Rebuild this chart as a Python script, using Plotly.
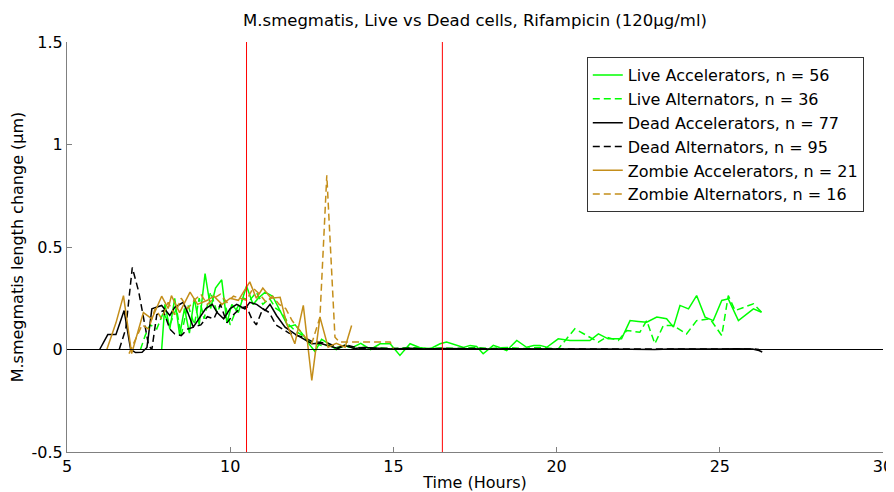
import plotly.graph_objects as go

# ---------------- data (time in hours, length change in µm) ----------------
live_acc = [(7.9, 0.0), (8.0, 0.22), (8.15, 0.1), (8.3, 0.25), (8.45, 0.07), (8.6, 0.2), (8.75, 0.08),
            (8.9, 0.25), (9.05, 0.12), (9.23, 0.37), (9.4, 0.2), (9.55, 0.3), (9.74, 0.34), (9.9, 0.13),
            (10.05, 0.22), (10.25, 0.18), (10.5, 0.31), (10.7, 0.22), (10.86, 0.25), (11.07, 0.28),
            (11.3, 0.26), (11.58, 0.17), (11.78, 0.11), (11.99, 0.12), (12.24, 0.07), (12.4, 0.03),
            (12.6, -0.01), (12.8, 0.05), (13.0, 0.03), (13.25, 0.0), (13.5, 0.02), (13.75, 0.01),
            (14.0, 0.03), (14.3, 0.0), (14.59, 0.028), (14.9, 0.028), (15.2, -0.029), (15.51, 0.028),
            (15.8, 0.01), (16.12, 0.003), (16.43, 0.028), (16.63, 0.036), (16.94, 0.02), (17.15, 0.01),
            (17.35, 0.02), (17.55, 0.015), (17.75, -0.021), (18.06, 0.02), (18.25, 0.01), (18.47, -0.005),
            (18.78, 0.044), (19.08, 0.011), (19.3, 0.02), (19.49, 0.02), (19.7, 0.011), (20.05, 0.052),
            (20.41, 0.044), (20.7, 0.044), (21.02, 0.044), (21.28, 0.076), (21.58, 0.052), (21.99, 0.052),
            (22.25, 0.141), (22.5, 0.137), (22.76, 0.133), (23.07, 0.158), (23.37, 0.15), (23.58, 0.109),
            (23.78, 0.215), (24.04, 0.198), (24.29, 0.263), (24.55, 0.158), (24.8, 0.141), (25.06, 0.239),
            (25.26, 0.247), (25.57, 0.141), (25.8, 0.17), (26.03, 0.198), (26.28, 0.182)]

live_alt = [(7.25, 0.0), (7.4, 0.07), (7.55, 0.12), (7.75, 0.1), (7.95, 0.18), (8.15, 0.12), (8.35, 0.2),
            (8.5, 0.07), (8.7, 0.22), (8.9, 0.12), (9.05, 0.25), (9.2, 0.15), (9.4, 0.28), (9.6, 0.18),
            (9.8, 0.25), (10.0, 0.12), (10.2, 0.2), (10.4, 0.25), (10.6, 0.24), (10.8, 0.28), (11.0, 0.22),
            (11.2, 0.25), (11.4, 0.2), (11.6, 0.18), (11.8, 0.12), (12.0, 0.09), (12.2, 0.07), (12.4, 0.04),
            (12.6, 0.03), (12.8, 0.02), (13.0, 0.02), (13.25, 0.01), (13.5, 0.015), (13.75, 0.01),
            (14.0, 0.01), (14.5, 0.008), (15.0, 0.005), (15.5, 0.01), (16.0, 0.005), (16.5, 0.008),
            (17.0, 0.005), (17.5, 0.01), (18.0, 0.005), (18.5, 0.01), (19.0, 0.005), (19.5, 0.01),
            (20.05, 0.003), (20.56, 0.101), (20.82, 0.076), (21.28, 0.036), (21.53, 0.06), (21.89, 0.044),
            (22.15, 0.093), (22.55, 0.084), (22.76, 0.141), (23.01, 0.028), (23.27, 0.117), (23.58, 0.117),
            (23.98, 0.076), (24.29, 0.141), (24.7, 0.15), (25.06, 0.068), (25.26, 0.263), (25.47, 0.19),
            (26.03, 0.223), (26.28, 0.182)]

dead_acc = [(6.0, 0.0), (6.25, 0.073), (6.5, 0.073), (6.75, 0.19), (6.95, 0.0), (7.1, -0.015), (7.3, -0.013),
            (7.45, 0.01), (7.6, 0.198), (7.9, 0.215), (8.15, 0.166), (8.3, 0.206), (8.56, 0.23), (8.7, 0.18),
            (8.87, 0.109), (9.05, 0.15), (9.25, 0.2), (9.45, 0.22), (9.6, 0.18), (9.8, 0.15), (10.0, 0.2),
            (10.2, 0.22), (10.45, 0.198), (10.6, 0.23), (10.81, 0.22), (11.07, 0.19), (11.22, 0.22),
            (11.42, 0.166), (11.68, 0.109), (11.98, 0.076), (12.25, 0.05), (12.5, 0.028), (12.75, 0.03),
            (13.0, 0.02), (13.3, 0.005), (13.5, 0.02), (13.8, 0.005), (14.1, 0.01), (14.5, 0.008),
            (15.0, 0.003), (15.5, 0.006), (16.0, 0.002), (16.5, 0.005), (17.0, 0.003), (17.5, 0.004),
            (18.0, 0.002), (18.5, 0.004), (19.0, 0.003), (19.5, 0.002), (20.0, 0.003), (20.5, 0.001),
            (21.0, 0.002), (21.5, 0.003), (22.0, 0.001), (22.5, 0.002), (23.0, 0.0), (23.5, 0.002),
            (24.0, 0.001), (24.5, 0.003), (25.0, 0.002), (25.5, 0.004), (26.0, 0.002), (26.2, -0.005),
            (26.3, -0.012)]

dead_alt = [(6.6, 0.0), (6.8, 0.1), (7.0, 0.4), (7.2, 0.28), (7.35, 0.15), (7.5, 0.02), (7.6, 0.0),
            (7.75, 0.17), (7.95, 0.19), (8.15, 0.1), (8.3, 0.076), (8.5, 0.068), (8.7, 0.1), (8.9, 0.11),
            (9.1, 0.12), (9.3, 0.16), (9.5, 0.15), (9.7, 0.22), (9.9, 0.13), (10.1, 0.17), (10.3, 0.2),
            (10.5, 0.21), (10.66, 0.15), (10.8, 0.12), (11.0, 0.2), (11.2, 0.18), (11.4, 0.12), (11.6, 0.1),
            (11.8, 0.08), (12.0, 0.07), (12.25, 0.06), (12.5, 0.04), (12.75, 0.035), (13.0, 0.03),
            (13.3, 0.01), (13.6, 0.02), (14.0, 0.005), (14.5, 0.006), (15.0, 0.004), (15.5, 0.005),
            (16.0, 0.003), (16.5, 0.004), (17.0, 0.002), (17.5, 0.005), (18.0, 0.003), (18.5, 0.002),
            (19.0, 0.004), (19.5, 0.003), (20.0, 0.002), (20.5, 0.003), (21.0, 0.001), (21.5, 0.002),
            (22.0, 0.003), (22.5, 0.001), (23.0, 0.002), (23.5, 0.003), (24.0, 0.002), (24.5, 0.001),
            (25.0, 0.003), (25.5, 0.002), (26.0, 0.003), (26.2, 0.0)]

zombie_acc = [(6.22, 0.0), (6.5, 0.13), (6.73, 0.263), (6.98, -0.02), (7.34, 0.18), (7.6, 0.15), (7.9, 0.26),
              (8.1, 0.2), (8.2, 0.263), (8.45, 0.18), (8.77, 0.28), (9.0, 0.22), (9.3, 0.24), (9.5, 0.26),
              (9.75, 0.22), (10.0, 0.25), (10.25, 0.24), (10.5, 0.3), (10.6, 0.33), (10.8, 0.25), (11.0, 0.3),
              (11.25, 0.25), (11.53, 0.255), (11.73, 0.125), (11.98, 0.028), (12.24, 0.215), (12.5, -0.151),
              (12.75, 0.158), (13.0, 0.011), (13.25, 0.03), (13.52, 0.011), (13.72, 0.117)]

zombie_alt = [(6.9, -0.02), (7.1, 0.05), (7.3, 0.12), (7.5, 0.1), (7.7, 0.2), (7.9, 0.15), (8.1, 0.23),
              (8.3, 0.17), (8.5, 0.25), (8.7, 0.2), (8.9, 0.24), (9.1, 0.27), (9.3, 0.22), (9.5, 0.25),
              (9.7, 0.27), (9.9, 0.23), (10.1, 0.26), (10.3, 0.25), (10.5, 0.24), (10.7, 0.3), (10.9, 0.27),
              (11.1, 0.23), (11.3, 0.26), (11.5, 0.22), (11.7, 0.2), (11.9, 0.14), (12.1, 0.1), (12.3, 0.06),
              (12.5, 0.03), (12.75, 0.158), (12.96, 0.85), (13.21, 0.06), (13.35, 0.036), (14.9, 0.036),
              (15.0, 0.005)]

series_names = ["Live Accelerators, n = 56", "Live Alternators, n = 36",
                "Dead Accelerators, n = 77", "Dead Alternators, n = 95",
                "Zombie Accelerators, n = 21", "Zombie Alternators, n = 16"]
event_times = [10.5, 16.5]
x_ticks = [5, 10, 15, 20, 25, 30]
y_ticks = [-0.5, 0, 0.5, 1, 1.5]
y_tick_labels = ["-0.5", "0", "0.5", "1", "1.5"]

GREEN = "#00FF00"
BLACK = "#000000"
GOLD = "#C48E1A"
DASH = "7px,4px"

series = [(live_acc, GREEN, "solid"), (live_alt, GREEN, DASH),
          (dead_acc, BLACK, "solid"), (dead_alt, BLACK, DASH),
          (zombie_acc, GOLD, "solid"), (zombie_alt, GOLD, DASH)]

fig = go.Figure()
for (data, color, dash), name in zip(series, series_names):
    fig.add_trace(go.Scatter(
        x=[p[0] for p in data], y=[p[1] for p in data], mode="lines", name=name,
        line=dict(color=color, width=1.5, dash=dash)))

# zero reference line
fig.add_shape(type="line", xref="paper", yref="y", x0=0, x1=1, y0=0, y1=0,
              line=dict(color="black", width=1))
# event markers
for t in event_times:
    fig.add_shape(type="line", xref="x", yref="paper", x0=t, x1=t, y0=0, y1=1,
                  line=dict(color="red", width=1))

# the page body has an 8px default margin, so the figure is 8px smaller and offset
FONT = "DejaVu Sans, Arial, sans-serif"
fig.update_layout(
    width=886, height=484,
    margin=dict(l=59, r=11, t=34, b=40, autoexpand=False),
    paper_bgcolor="white", plot_bgcolor="white",
    font=dict(family=FONT, size=16, color="black"),
    title=dict(text="M.smegmatis, Live vs Dead cells, Rifampicin (120µg/ml)",
               x=0.5, xref="paper", xanchor="center", y=1 - 12 / 484, yref="container",
               yanchor="middle", font=dict(size=16.5, color="black")),
    showlegend=True,
    legend=dict(x=0.637, y=0.963, xanchor="left", yanchor="top",
                bgcolor="white", bordercolor="#333333", borderwidth=1,
                font=dict(size=16), tracegroupgap=0, itemwidth=30),
)
fig.update_xaxes(range=[5, 30], tickvals=x_ticks, ticks="inside", ticklen=5,
                 tickcolor="#808080", showline=True, linecolor="#808080", linewidth=1,
                 showgrid=False, zeroline=False, mirror=False, automargin=False,
                 title=dict(text="Time (Hours)", standoff=2, font=dict(size=16)),
                 tickfont=dict(size=16))
fig.update_yaxes(range=[-0.5, 1.5], tickvals=y_ticks, ticktext=y_tick_labels, ticks="inside",
                 ticklen=5, tickcolor="#808080", showline=True, linecolor="#808080", linewidth=1,
                 showgrid=False, zeroline=False, mirror=False, automargin=False,
                 title=dict(text="M.smegmatis length change (µm)", standoff=5, font=dict(size=16)),
                 tickfont=dict(size=16))

fig.write_html("out.html")
